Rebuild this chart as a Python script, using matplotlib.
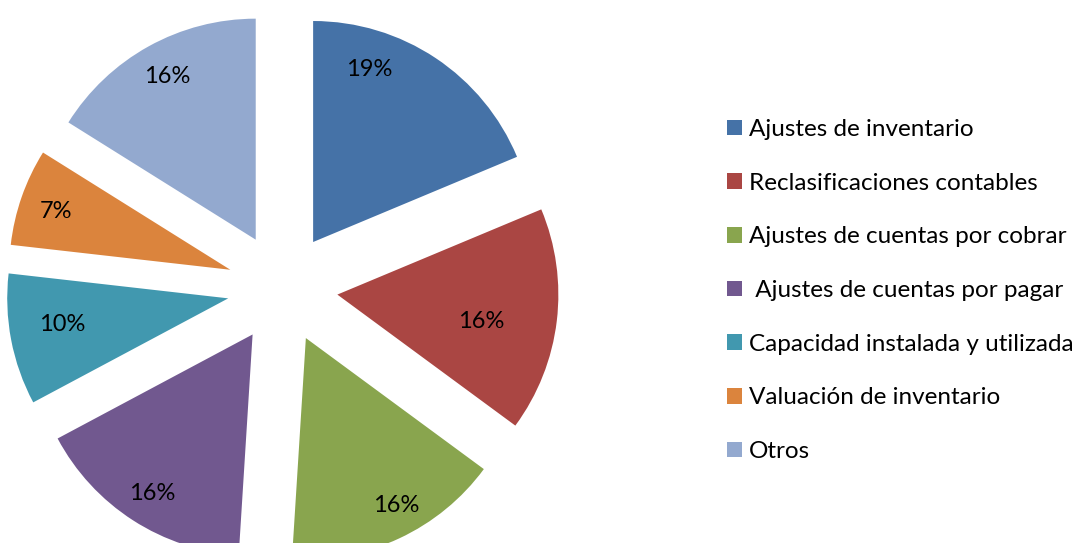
import matplotlib
matplotlib.use("Agg")
import matplotlib.pyplot as plt
from matplotlib.patches import Patch
import numpy as np

categories = [
    "Ajustes de inventario",
    "Reclasificaciones contables",
    "Ajustes de cuentas por cobrar",
    " Ajustes de cuentas por pagar",
    "Capacidad instalada y utilizada",
    "Valuación de inventario",
    "Otros",
]
values = [18.7, 16.4, 15.9, 16.2, 9.6, 7.1, 16.1]
colors = ["#4572A7", "#AA4643", "#89A54E", "#71588F", "#4198AF", "#DB843D", "#93A9CF"]

# label placement (angle offset in degrees from wedge mid-angle, radial distance)
label_adjust = [(15.5, 0.82), (-3.6, 0.66), (3.5, 0.86), (0.4, 0.85), (-2.0, 0.76), (0.9, 0.83), (-0.4, 0.84)]

plt.rcParams["font.family"] = ["Lato", "DejaVu Sans"]

W, H = 1083, 543
fig = plt.figure(figsize=(W / 100, H / 100), dpi=100)
ax = fig.add_axes([0, 0, 1, 1])

R_PX = 221.0
cx, cy = 282.5, H - 288.0
explode = [0.25] * len(values)

wedges, texts, autotexts = ax.pie(
    values, colors=colors, startangle=90, counterclock=False,
    explode=explode, autopct="%.0f%%", pctdistance=0.83,
    wedgeprops=dict(linewidth=0), textprops=dict(fontsize=17, color="black"),
)

for w, at, (da, dist) in zip(wedges, autotexts, label_adjust):
    mid = 0.5 * (w.theta1 + w.theta2)
    ang = np.deg2rad(mid + da)
    c = w.center
    at.set_position((c[0] + dist * np.cos(ang), c[1] + dist * np.sin(ang)))
    at.set_ha("center"); at.set_va("center")

ax.set_aspect("auto")
ax.set_xlim((0 - cx) / R_PX, (W - cx) / R_PX)
ax.set_ylim((0 - cy) / R_PX, (H - cy) / R_PX)
ax.axis("off")

handles = [Patch(facecolor=c, edgecolor="none") for c in colors]
fig.legend(handles, categories, loc="upper left", bbox_to_anchor=(727 / W, 1 - 119 / H),
           frameon=False, fontsize=17.5, handlelength=0.6, handleheight=0.6,
           handletextpad=0.3, labelspacing=1.345, borderaxespad=0, borderpad=0)

fig.savefig("out.png", dpi=100)
